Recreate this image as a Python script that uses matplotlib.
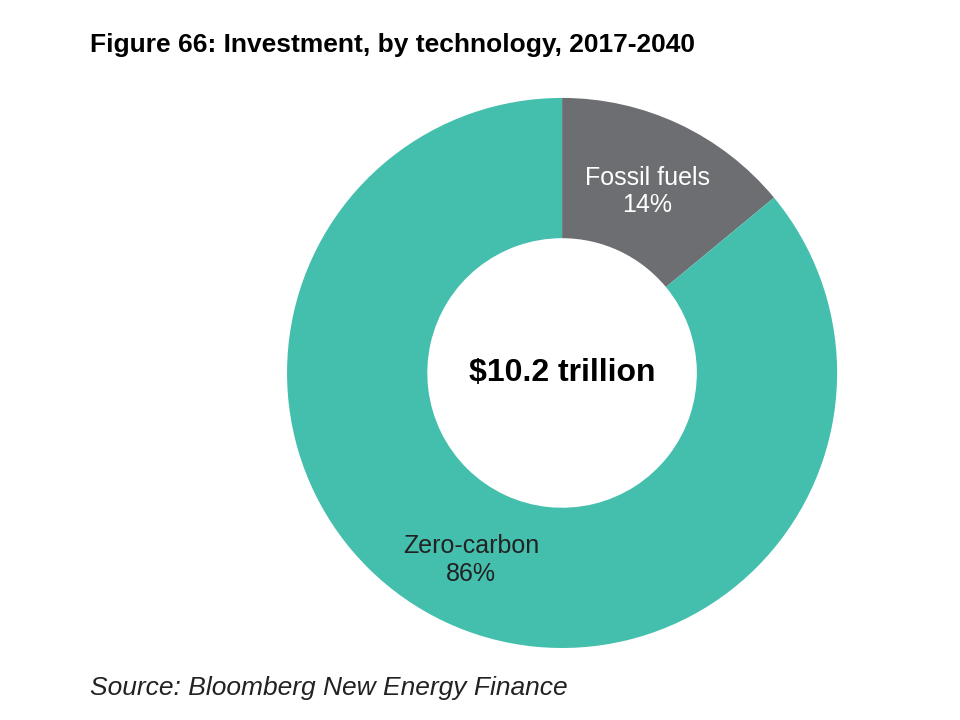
import matplotlib.pyplot as plt

plt.rcParams['font.family'] = ['Liberation Sans', 'DejaVu Sans']

labels = ['Fossil fuels', 'Zero-carbon']
shares = [14, 86]
colors = ['#6d6e71', '#45bfad']
total_text = '$10.2 trillion'

fig = plt.figure(figsize=(9.6, 7.2), dpi=100)
ax = fig.add_axes([0.299, 0.1, 0.573, 0.764])

ax.pie(shares, colors=colors, startangle=90, counterclock=False,
       radius=1.0, wedgeprops=dict(width=0.51, edgecolor='none'))
ax.set_xlim(-1, 1)
ax.set_ylim(-1, 1)
ax.set_aspect('equal')

ax.text(0, 0.0, total_text.replace('$', r'\$'), ha='center', va='center',
        fontsize=23, fontweight='bold', color='black')
ax.text(0.31, 0.66, f'{labels[0]}\n{shares[0]}%', ha='center', va='center',
        fontsize=18, color='white', linespacing=1.2)
ax.text(-0.33, -0.68, f'{labels[1]}\n{shares[1]}%', ha='center', va='center',
        fontsize=18, color='#222222', linespacing=1.2)

fig.text(0.094, 0.938, 'Figure 66: Investment, by technology, 2017-2040',
         fontsize=19, fontweight='bold', ha='left', va='center')
fig.text(0.094, 0.045, 'Source: Bloomberg New Energy Finance',
         fontsize=19, fontstyle='italic', ha='left', va='center', color='#222222')

fig.savefig('out.png', dpi=100)
